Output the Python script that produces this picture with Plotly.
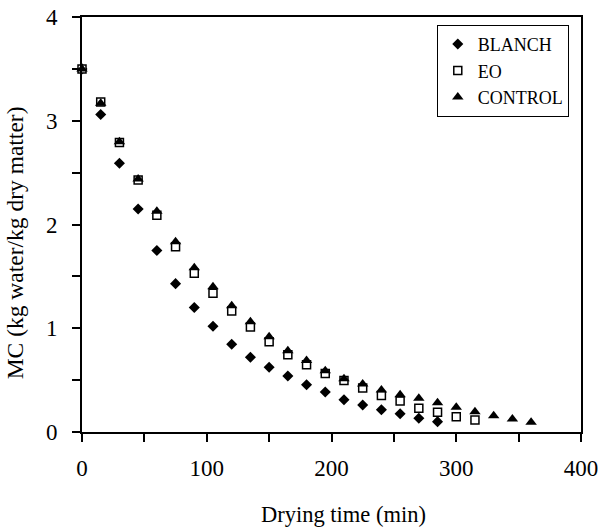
import plotly.graph_objects as go

# Drying time (min)
t_blanch = [0, 15, 30, 45, 60, 75, 90, 105, 120, 135, 150, 165, 180, 195, 210, 225, 240, 255, 270, 285]
mc_blanch = [3.50, 3.06, 2.59, 2.15, 1.75, 1.43, 1.20, 1.02, 0.845, 0.72, 0.625, 0.54, 0.455, 0.385, 0.31, 0.26, 0.215, 0.175, 0.132, 0.10]

t_eo = [0, 15, 30, 45, 60, 75, 90, 105, 120, 135, 150, 165, 180, 195, 210, 225, 240, 255, 270, 285, 300, 315]
mc_eo = [3.50, 3.18, 2.79, 2.43, 2.09, 1.786, 1.53, 1.337, 1.166, 1.012, 0.871, 0.745, 0.648, 0.565, 0.496, 0.424, 0.353, 0.299, 0.228, 0.19, 0.148, 0.116]

t_control = [0, 15, 30, 45, 60, 75, 90, 105, 120, 135, 150, 165, 180, 195, 210, 225, 240, 255, 270, 285, 300, 315, 330, 345, 360]
mc_control = [3.50, 3.168, 2.798, 2.439, 2.127, 1.834, 1.584, 1.401, 1.218, 1.063, 0.919, 0.784, 0.689, 0.59, 0.514, 0.462, 0.404, 0.36, 0.325, 0.283, 0.238, 0.196, 0.157, 0.125, 0.093]

x_ticks = [0, 100, 200, 300, 400]
y_ticks = [0, 1, 2, 3, 4]

x_title = "Drying time (min)"
y_title = "MC (kg water/kg dry matter)"

FONT = "Liberation Serif"

fig = go.Figure()
fig.add_trace(go.Scatter(
    x=t_blanch, y=mc_blanch, mode="markers", name="BLANCH", cliponaxis=False,
    marker=dict(symbol="diamond", size=8.5, color="black", line=dict(width=0))))
fig.add_trace(go.Scatter(
    x=t_eo, y=mc_eo, mode="markers", name="EO", cliponaxis=False,
    marker=dict(symbol="square", size=8, color="white", line=dict(width=1.5, color="black"))))
fig.add_trace(go.Scatter(
    x=t_control, y=mc_control, mode="markers", name="CONTROL", cliponaxis=False,
    marker=dict(symbol="triangle-up", size=10, color="black", line=dict(width=0))))

axis_common = dict(
    showgrid=False, zeroline=False, showline=True, linecolor="black", linewidth=2,
    mirror=True, ticks="outside", ticklen=8, tickwidth=1.5, tickcolor="black",
    tickfont=dict(family=FONT, size=23, color="black"), automargin=False,
)

fig.update_xaxes(
    range=[0, 400], tickvals=x_ticks, ticktext=[str(v) for v in x_ticks],
    minor=dict(ticks="outside", ticklen=8, tickwidth=1.5, tickcolor="black", dtick=50, tick0=0),
    ticklabelstandoff=6,
    **axis_common)
fig.update_yaxes(
    range=[0, 4], tickvals=y_ticks, ticktext=[str(v) for v in y_ticks],
    minor=dict(ticks="outside", ticklen=8, tickwidth=1.5, tickcolor="black", dtick=0.5, tick0=0),
    ticklabelstandoff=10,
    **axis_common)

fig.add_annotation(
    text=x_title, xref="paper", yref="paper", x=0.524, y=-0.198,
    xanchor="center", yanchor="middle", showarrow=False,
    font=dict(family=FONT, size=22.5, color="black"))
fig.add_annotation(
    text=y_title, xref="paper", yref="paper", x=-0.134, y=0.455,
    xanchor="center", yanchor="middle", showarrow=False, textangle=-90,
    font=dict(family=FONT, size=23.5, color="black"))

fig.update_layout(
    template="none",
    width=600, height=527,
    margin=dict(l=82, r=19, t=17, b=95, autoexpand=False),
    paper_bgcolor="white", plot_bgcolor="white",
    font=dict(family=FONT, color="black"),
    showlegend=True,
    legend=dict(
        x=0.711, y=0.981, xanchor="left", yanchor="top",
        bgcolor="white", bordercolor="black", borderwidth=1,
        font=dict(family=FONT, size=18, color="black"),
        itemwidth=30, tracegroupgap=0,
    ),
)

fig.write_html("out.html", config={"displayModeBar": False},
               post_script="document.body.style.margin='0px';document.body.style.padding='0px';")
